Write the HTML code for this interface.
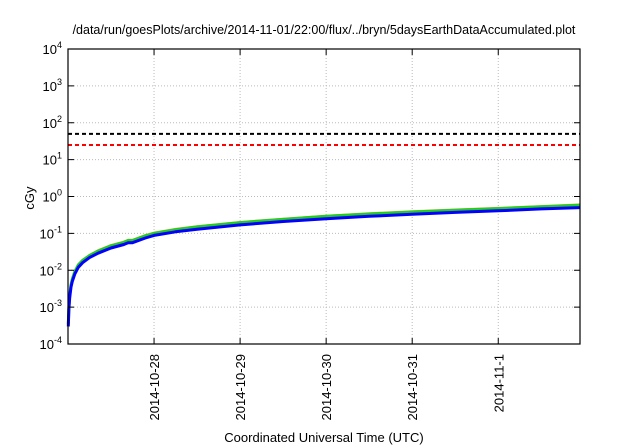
<!DOCTYPE html>
<html><head><meta charset="utf-8"><style>
body{margin:0;background:#fff}
svg{display:block;font-family:"Liberation Sans",sans-serif}
</style></head><body>
<svg id="c" width="640" height="448">
<text x="324" y="34" font-size="12.5" text-anchor="middle">/data/run/goesPlots/archive/2014-11-01/22:00/flux/../bryn/5daysEarthDataAccumulated.plot</text>
<text x="34" y="198" font-size="13" text-anchor="middle" transform="rotate(-90 34 198)">cGy</text>
<text x="324" y="442" font-size="13" text-anchor="middle">Coordinated Universal Time (UTC)</text>
<g id="grid"></g><g id="series"></g><g id="axes"></g>
</svg>
<script>
const xTickLabels=["2014-10-28","2014-10-29","2014-10-30","2014-10-31","2014-11-1"];
const xTickDays=[1,2,3,4,5];
const yTickExps=[-4,-3,-2,-1,0,1,2,3,4];
const thresholdValues=[50,25];
const thresholdColors=["#000","#f00"];
const days=[0.003,0.01,0.02,0.035,0.05,0.08,0.12,0.17,0.25,0.35,0.5,0.65,0.7,0.75,0.9,1,1.25,1.5,2,2.5,3,3.5,4,4.5,5,5.5,5.95];
const blueVals=[0.0003,0.0009,0.0018,0.0035,0.005,0.008,0.012,0.016,0.022,0.029,0.04,0.05,0.056,0.056,0.075,0.088,0.11,0.13,0.17,0.21,0.25,0.29,0.33,0.37,0.41,0.46,0.5];
const greenVals=[0.00035,0.001,0.0021,0.004,0.0058,0.0093,0.014,0.0185,0.025,0.033,0.046,0.057,0.064,0.064,0.086,0.1,0.126,0.15,0.196,0.24,0.29,0.335,0.38,0.425,0.47,0.53,0.58];
const orangeVals=[0.00036,0.00105,0.0022,0.0042,0.006,0.0097,0.0146,0.019,0.026,0.035,0.048,0.06,0.067,0.067,0.09,0.105,0.132,0.156,0.204,0.25,0.3,0.35,0.4,0.445,0.49,0.55,0.61];
const L=68,R=580,T=49,B=344,D0=0,D1=5.95;
const X=d=>L+(d-D0)/(D1-D0)*(R-L);
const Y=v=>B-(Math.log10(v)+4)/8*(B-T);
const ns="http://www.w3.org/2000/svg";
function mk(p,t,a){const e=document.createElementNS(ns,t);for(const k in a)e.setAttribute(k,a[k]);document.getElementById(p).appendChild(e);return e;}
yTickExps.forEach(e=>{const y=Y(Math.pow(10,e));
 if(e>-4&&e<4){const g=mk('grid','line',{x1:L,x2:R,y1:y,y2:y,stroke:'#bbb','stroke-dasharray':'1,2'});
 
 }
 const t1=mk('axes','line',{x1:L,x2:L+6,y1:y,y2:y,stroke:'#000'});
 
 
 const t2=mk('axes','line',{x1:R-6,x2:R,y1:y,y2:y,stroke:'#000'});
 
 
 const tx=mk('axes','text',{x:L-6,y:y+5,'font-size':'13','text-anchor':'end'});
 tx.innerHTML='10<tspan dy="-6" font-size="9">'+e+'</tspan>';
 
 
});
xTickDays.forEach((d,i)=>{const x=X(d);
 const g=mk('grid','line',{x1:x,x2:x,y1:T,y2:B,stroke:'#bbb','stroke-dasharray':'1,2'});
 
 
 const t=mk('axes','line',{x1:x,x2:x,y1:B-6,y2:B,stroke:'#000'});
 
 
 const t2=mk('axes','line',{x1:x,x2:x,y1:T,y2:T+6,stroke:'#000'});
 
 
 const tx=mk('axes','text',{x:0,y:0,'font-size':'13','text-anchor':'end',transform:`translate(${x+5},${B+10}) rotate(-90)`});
 tx.textContent=xTickLabels[i];
 
 
});
thresholdValues.forEach((v,i)=>{const y=Y(v);
 const l=mk('series','line',{x1:L,x2:R,y1:y,y2:y,stroke:thresholdColors[i],'stroke-width':2,'stroke-dasharray':'4,3'});
 
 
});
[[orangeVals,'#e8a060',2,'series-orange'],[greenVals,'#22cc22',3,'series-green'],[blueVals,'#0000ff',3,'series-blue']].forEach(s=>{
 const pts=days.map((d,i)=>X(d).toFixed(1)+','+Y(s[0][i]).toFixed(1)).join(' ');
 const p=mk('series','polyline',{points:pts,fill:'none',stroke:s[1],'stroke-width':s[2],'stroke-linejoin':'round'});
 
 
});
const f=mk('axes','rect',{x:L,y:T,width:R-L,height:B-T,fill:'none',stroke:'#000','stroke-width':1.2});


</script>
</body></html>
